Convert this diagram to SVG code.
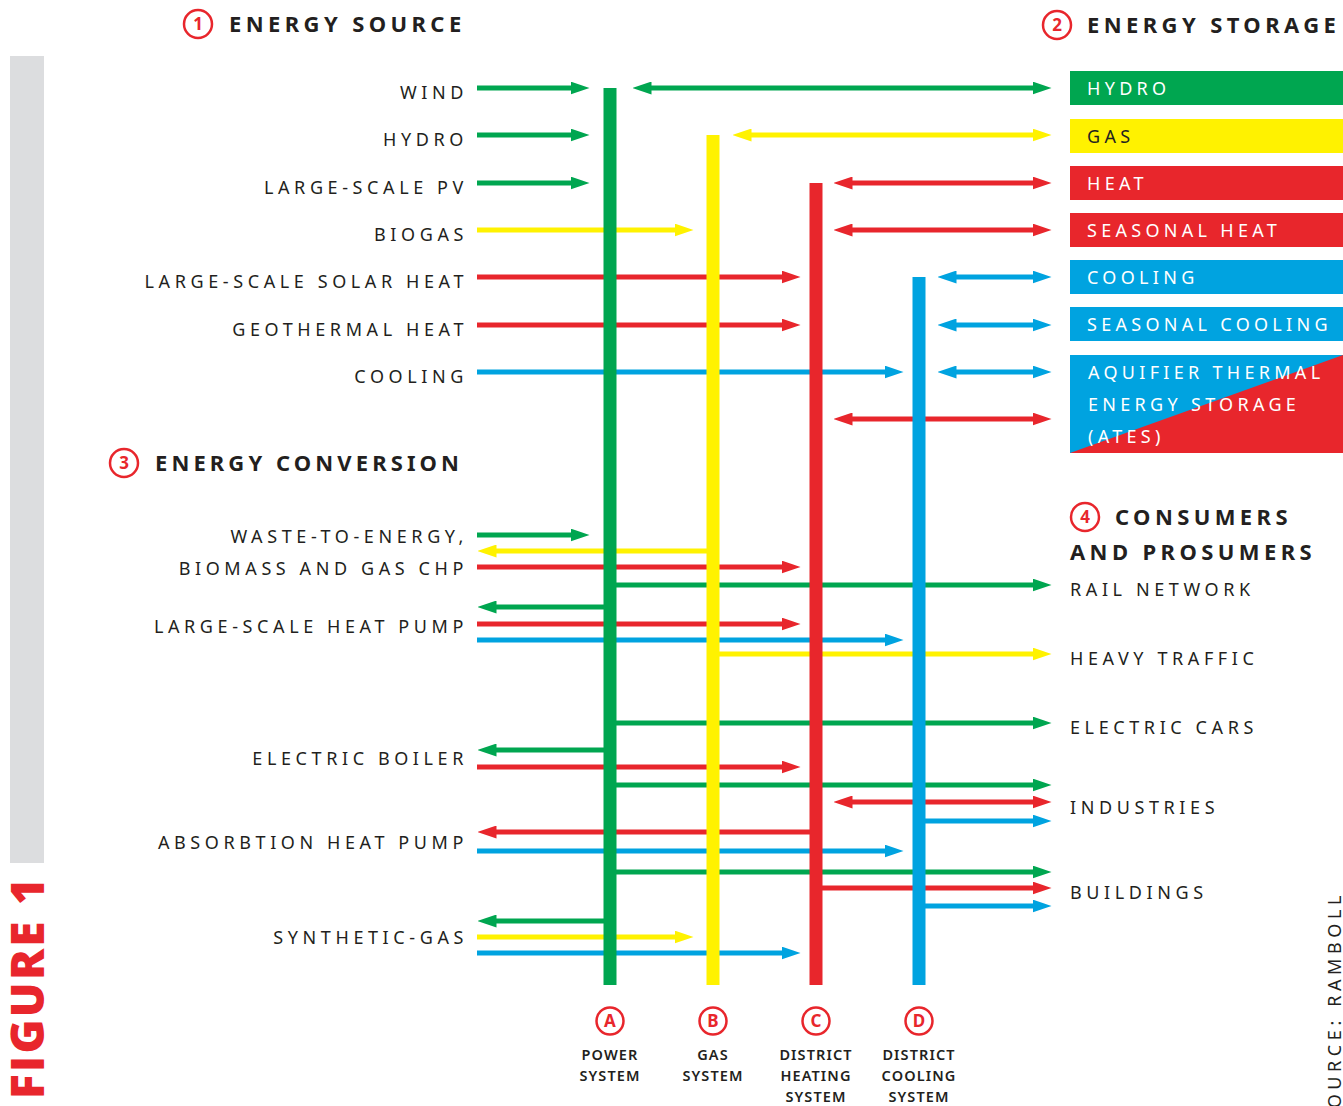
<svg xmlns="http://www.w3.org/2000/svg" width="1343" height="1106" viewBox="0 0 1343 1106">
<style>
.lbl{font-family:"Noto Sans","Open Sans",sans-serif;font-size:18px;fill:#231f20;letter-spacing:4.6px}
.lblL{text-anchor:end}
.hdr{font-family:"Noto Sans","Open Sans",sans-serif;font-size:22px;font-weight:700;fill:#231f20;letter-spacing:4.4px}
.box{font-family:"Noto Sans","Open Sans",sans-serif;font-size:18px;fill:#fff;letter-spacing:4.3px}
.num{fill:none;stroke:#e8262c;stroke-width:2.5}
.numt{font-family:"Noto Sans","Open Sans",sans-serif;font-size:17px;font-weight:700;fill:#e8262c;text-anchor:middle}
.sys{font-family:"Noto Sans","Open Sans",sans-serif;font-size:14.5px;font-weight:600;fill:#231f20;text-anchor:middle;letter-spacing:1.1px}
.g{stroke:#00a650}.y{stroke:#fff200}.r{stroke:#e8262c}.b{stroke:#00a3e0}
#connectors line{stroke-width:5}
.e-g{marker-end:url(#h-g)}.e-y{marker-end:url(#h-y)}.e-r{marker-end:url(#h-r)}.e-b{marker-end:url(#h-b)}
.s-g{marker-start:url(#h-g)}.s-y{marker-start:url(#h-y)}.s-r{marker-start:url(#h-r)}.s-b{marker-start:url(#h-b)}
</style>
<defs>
<marker id="h-g" markerUnits="userSpaceOnUse" markerWidth="19" markerHeight="13" refX="0.5" refY="6.5" orient="auto-start-reverse"><path d="M0,0 L19,6.5 L0,13 z" fill="#00a650"/></marker>
<marker id="h-y" markerUnits="userSpaceOnUse" markerWidth="19" markerHeight="13" refX="0.5" refY="6.5" orient="auto-start-reverse"><path d="M0,0 L19,6.5 L0,13 z" fill="#fff200"/></marker>
<marker id="h-r" markerUnits="userSpaceOnUse" markerWidth="19" markerHeight="13" refX="0.5" refY="6.5" orient="auto-start-reverse"><path d="M0,0 L19,6.5 L0,13 z" fill="#e8262c"/></marker>
<marker id="h-b" markerUnits="userSpaceOnUse" markerWidth="19" markerHeight="13" refX="0.5" refY="6.5" orient="auto-start-reverse"><path d="M0,0 L19,6.5 L0,13 z" fill="#00a3e0"/></marker>
</defs>
<rect width="1343" height="1106" fill="#fff"/>

<g id="figure-label">
<rect x="10" y="56" width="34" height="807" fill="#dcdddf"/>
<text transform="translate(44,1099) rotate(-90)" font-family="'Open Sans','Noto Sans',sans-serif" font-size="46" font-weight="800" fill="#e8262c" letter-spacing="2.3">FIGURE 1</text>
<text transform="translate(1341,891) rotate(-90)" font-family="'Noto Sans','Open Sans',sans-serif" font-size="18" fill="#231f20" letter-spacing="4.6" text-anchor="end">SOURCE: RAMBOLL</text>
</g>

<g id="headers">
<circle class="num" cx="198" cy="24" r="14"/><text class="numt" x="198" y="30">1</text>
<text class="hdr" x="229" y="32">ENERGY SOURCE</text>
<circle class="num" cx="1057" cy="25" r="14"/><text class="numt" x="1057" y="31">2</text>
<text class="hdr" x="1087" y="33">ENERGY STORAGE</text>
<circle class="num" cx="124" cy="463" r="14"/><text class="numt" x="124" y="469">3</text>
<text class="hdr" x="155" y="471" style="letter-spacing:4.1px">ENERGY CONVERSION</text>
<circle class="num" cx="1085" cy="517" r="14"/><text class="numt" x="1085" y="523">4</text>
<text class="hdr" x="1115" y="525">CONSUMERS</text>
<text class="hdr" x="1070" y="560">AND PROSUMERS</text>
</g>

<g id="sources">
<text class="lbl lblL" x="468" y="99">WIND</text>
<text class="lbl lblL" x="468" y="146">HYDRO</text>
<text class="lbl lblL" x="468" y="194">LARGE-SCALE PV</text>
<text class="lbl lblL" x="468" y="241">BIOGAS</text>
<text class="lbl lblL" x="468" y="288">LARGE-SCALE SOLAR HEAT</text>
<text class="lbl lblL" x="468" y="336">GEOTHERMAL HEAT</text>
<text class="lbl lblL" x="468" y="383">COOLING</text>
</g>

<g id="conversion">
<text class="lbl lblL" x="468" y="543">WASTE-TO-ENERGY,</text>
<text class="lbl lblL" x="468" y="575">BIOMASS AND GAS CHP</text>
<text class="lbl lblL" x="468" y="633">LARGE-SCALE HEAT PUMP</text>
<text class="lbl lblL" x="468" y="765">ELECTRIC BOILER</text>
<text class="lbl lblL" x="468" y="849">ABSORBTION HEAT PUMP</text>
<text class="lbl lblL" x="468" y="944">SYNTHETIC-GAS</text>
</g>

<g id="storage">
<rect x="1070" y="71" width="273" height="34" fill="#00a650"/><text class="box" x="1087" y="95">HYDRO</text>
<rect x="1070" y="119" width="273" height="34" fill="#fff200"/><text class="box" x="1087" y="143" style="fill:#231f20">GAS</text>
<rect x="1070" y="166" width="273" height="34" fill="#e8262c"/><text class="box" x="1087" y="190">HEAT</text>
<rect x="1070" y="213" width="273" height="34" fill="#e8262c"/><text class="box" x="1087" y="237">SEASONAL HEAT</text>
<rect x="1070" y="260" width="273" height="34" fill="#00a3e0"/><text class="box" x="1087" y="284">COOLING</text>
<rect x="1070" y="307" width="273" height="34" fill="#00a3e0"/><text class="box" x="1087" y="331">SEASONAL COOLING</text>
<rect x="1070" y="355" width="273" height="98" fill="#00a3e0"/>
<path d="M1070,453 L1343,355 L1343,453 z" fill="#e8262c"/>
<text class="box" x="1088" y="379">AQUIFIER THERMAL</text>
<text class="box" x="1088" y="411">ENERGY STORAGE</text>
<text class="box" x="1088" y="443">(ATES)</text>
</g>

<g id="consumers">
<text class="lbl" x="1070" y="596">RAIL NETWORK</text>
<text class="lbl" x="1070" y="665">HEAVY TRAFFIC</text>
<text class="lbl" x="1070" y="734">ELECTRIC CARS</text>
<text class="lbl" x="1070" y="814">INDUSTRIES</text>
<text class="lbl" x="1070" y="899">BUILDINGS</text>
</g>

<g id="connectors">
<line class="g e-g" x1="477" y1="88" x2="571" y2="88"/>
<line class="g s-g e-g" x1="651" y1="88" x2="1033" y2="88"/>
<line class="g e-g" x1="477" y1="135" x2="571" y2="135"/>
<line class="y s-y e-y" x1="751" y1="135" x2="1033" y2="135"/>
<line class="g e-g" x1="477" y1="183" x2="571" y2="183"/>
<line class="r s-r e-r" x1="852" y1="183" x2="1033" y2="183"/>
<line class="y e-y" x1="477" y1="230" x2="675" y2="230"/>
<line class="r s-r e-r" x1="852" y1="230" x2="1033" y2="230"/>
<line class="r e-r" x1="477" y1="277" x2="782" y2="277"/>
<line class="b s-b e-b" x1="956" y1="277" x2="1033" y2="277"/>
<line class="r e-r" x1="477" y1="325" x2="782" y2="325"/>
<line class="b s-b e-b" x1="956" y1="325" x2="1033" y2="325"/>
<line class="b e-b" x1="477" y1="372" x2="885" y2="372"/>
<line class="b s-b e-b" x1="956" y1="372" x2="1033" y2="372"/>
<line class="r s-r e-r" x1="852" y1="419" x2="1033" y2="419"/>

<line class="g e-g" x1="477" y1="535" x2="571" y2="535"/>
<line class="y s-y" x1="496" y1="551" x2="713" y2="551"/>
<line class="r e-r" x1="477" y1="567" x2="782" y2="567"/>
<line class="g e-g" x1="610" y1="585" x2="1033" y2="585"/>
<line class="g s-g" x1="496" y1="607" x2="610" y2="607"/>
<line class="r e-r" x1="477" y1="624" x2="782" y2="624"/>
<line class="b e-b" x1="477" y1="640" x2="885" y2="640"/>
<line class="y e-y" x1="713" y1="654" x2="1033" y2="654"/>
<line class="g e-g" x1="610" y1="723" x2="1033" y2="723"/>
<line class="g s-g" x1="496" y1="750" x2="610" y2="750"/>
<line class="r e-r" x1="477" y1="767" x2="782" y2="767"/>
<line class="g e-g" x1="610" y1="785" x2="1033" y2="785"/>
<line class="r s-r e-r" x1="852" y1="802" x2="1033" y2="802"/>
<line class="b e-b" x1="919" y1="821" x2="1033" y2="821"/>
<line class="r s-r" x1="496" y1="832" x2="816" y2="832"/>
<line class="b e-b" x1="477" y1="851" x2="885" y2="851"/>
<line class="g e-g" x1="610" y1="872" x2="1033" y2="872"/>
<line class="r e-r" x1="816" y1="888" x2="1033" y2="888"/>
<line class="b e-b" x1="919" y1="906" x2="1033" y2="906"/>
<line class="g s-g" x1="496" y1="921" x2="610" y2="921"/>
<line class="y e-y" x1="477" y1="937" x2="675" y2="937"/>
<line class="b e-b" x1="477" y1="953" x2="782" y2="953"/>
</g>

<g id="power-system">
<rect x="603.5" y="88" width="13" height="897" fill="#00a650"/>
<circle class="num" cx="610" cy="1021" r="13.5"/><text class="numt" x="610" y="1027">A</text>
<text class="sys" x="610" y="1060">POWER</text><text class="sys" x="610" y="1081">SYSTEM</text>
</g>
<g id="gas-system">
<rect x="706.5" y="135" width="13" height="850" fill="#fff200"/>
<circle class="num" cx="713" cy="1021" r="13.5"/><text class="numt" x="713" y="1027">B</text>
<text class="sys" x="713" y="1060">GAS</text><text class="sys" x="713" y="1081">SYSTEM</text>
</g>
<g id="district-heating">
<rect x="809.5" y="183" width="13" height="802" fill="#e8262c"/>
<circle class="num" cx="816" cy="1021" r="13.5"/><text class="numt" x="816" y="1027">C</text>
<text class="sys" x="816" y="1060">DISTRICT</text><text class="sys" x="816" y="1081">HEATING</text><text class="sys" x="816" y="1102">SYSTEM</text>
</g>
<g id="district-cooling">
<rect x="912.5" y="277" width="13" height="708" fill="#00a3e0"/>
<circle class="num" cx="919" cy="1021" r="13.5"/><text class="numt" x="919" y="1027">D</text>
<text class="sys" x="919" y="1060">DISTRICT</text><text class="sys" x="919" y="1081">COOLING</text><text class="sys" x="919" y="1102">SYSTEM</text>
</g>
</svg>
